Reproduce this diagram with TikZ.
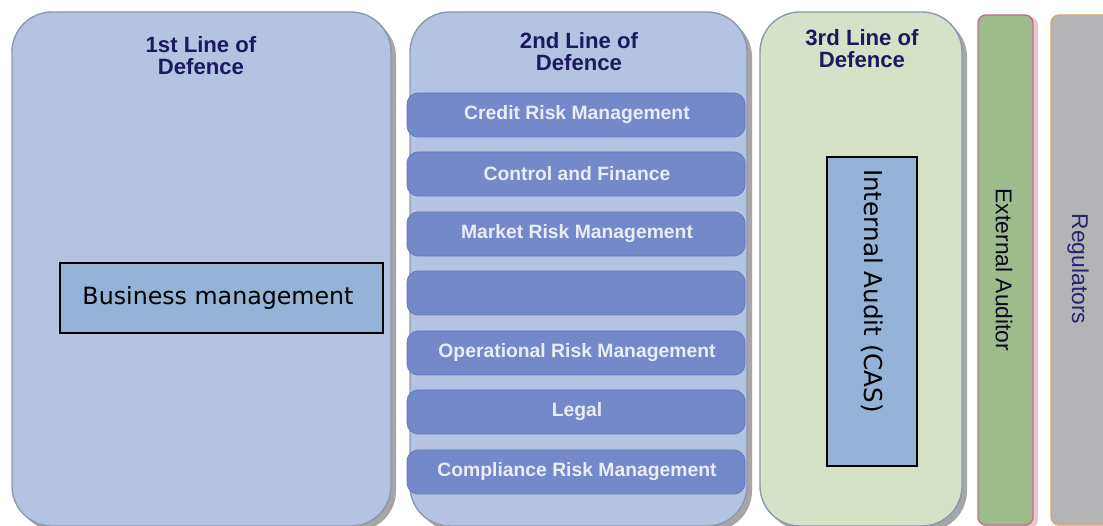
\documentclass[tikz,border=0pt]{standalone}
\usepackage{fontspec}
\setmainfont{Liberation Sans}
\newfontfamily\verdanalike{DejaVu Sans}
\usepackage{xcolor}

\definecolor{panelblue}{HTML}{B4C3E2}
\definecolor{panelgreen}{HTML}{D5E2C8}
\definecolor{panelrim}{HTML}{8C98AE}
\definecolor{rowblue}{HTML}{7389C9}
\definecolor{rowrim}{HTML}{6478B4}
\definecolor{rowtext}{HTML}{E8EDF6}
\definecolor{boxblue}{HTML}{95B3D7}
\definecolor{navy}{HTML}{1A1A5C}
\definecolor{regtext}{HTML}{25256E}
\definecolor{audgreen}{HTML}{9DBC8B}
\definecolor{audrim}{HTML}{C27088}
\definecolor{reggray}{HTML}{B4B4B6}
\definecolor{regrim}{HTML}{E0A468}

\tikzset{
  panel/.style={draw=panelrim,line width=0.8pt,rounded corners=0.8cm},
  shade/.style={fill=black!35,rounded corners=0.8cm},
  heading/.style={align=center,text=navy,font=\bfseries\fontsize{12.6}{12.6}\selectfont},
  riskrow/.style={draw=rowrim,fill=rowblue,rounded corners=0.22cm},
  rowlabel/.style={text=rowtext,font=\bfseries\fontsize{11}{12}\selectfont},
  plainbox/.style={draw=black,line width=0.7pt,fill=boxblue},
  sidelabel/.style={rotate=-90,text=regtext,font=\fontsize{13}{14}\selectfont},
}

\begin{document}
\begin{tikzpicture}[x=0.02cm,y=-0.02cm]
    \useasboundingbox (0,0) rectangle (1103,526);
    \fill[white] (0,0) rectangle (1103,526);

    % three lines of defence
    \fill[shade] (17,17) rectangle (396,531);
    \filldraw[panel,fill=panelblue] (12,12) rectangle (391,526);
    \fill[shade] (415,17) rectangle (752,531);
    \filldraw[panel,fill=panelblue] (410,12) rectangle (747,526);
    \fill[shade] (765,17) rectangle (967,531);
    \filldraw[panel,fill=panelgreen] (760,12) rectangle (962,526);

    \node[heading] (first) at (201,56) {1st Line of\\Defence};
    \node[heading] (second) at (579,52) {2nd Line of\\Defence};
    \node[heading] (third) at (862,49) {3rd Line of\\Defence};

    % second line functions
    \foreach \top/\name/\txt in {93/credit/Credit Risk Management,
        152/control/Control and Finance,
        212/market/Market Risk Management,
        271/blank/,
        331/oprisk/Operational Risk Management,
        390/legal/Legal,
        450/compliance/Compliance Risk Management}
    {
        \filldraw[riskrow] (407,\top) rectangle (745,\top+44);
        \node[rowlabel] (\name) at (577,\top+22) {\txt};
    }

    \node[plainbox,minimum width=6.46cm,minimum height=1.4cm] (business) at (221.5,298) {};
    \node[font=\verdanalike\fontsize{13.5}{15}\selectfont] (businesstxt) at (218,298) {Business management};
    \node[plainbox,minimum width=1.8cm,minimum height=6.18cm] (audbox) at (872,311.5) {};
    \node[rotate=-90,font=\verdanalike\fontsize{14}{15}\selectfont] (audit) at (872,291) {Internal Audit (CAS)};

    % outside parties
    \fill[fill=audrim!40,rounded corners=0.16cm] (981,17) rectangle (1038,528);
    \filldraw[draw=audrim,line width=0.8pt,fill=audgreen,rounded corners=0.16cm] (978,15) rectangle (1033,525);
    \node[sidelabel,text=black!75!regtext] (extaud) at (1004,270) {External Auditor};
    \filldraw[draw=regrim,line width=0.8pt,fill=reggray,rounded corners=0.16cm] (1051,15) rectangle (1110,525);
    \node[sidelabel] (regs) at (1078,269) {Regulators};
\end{tikzpicture}
\end{document}
